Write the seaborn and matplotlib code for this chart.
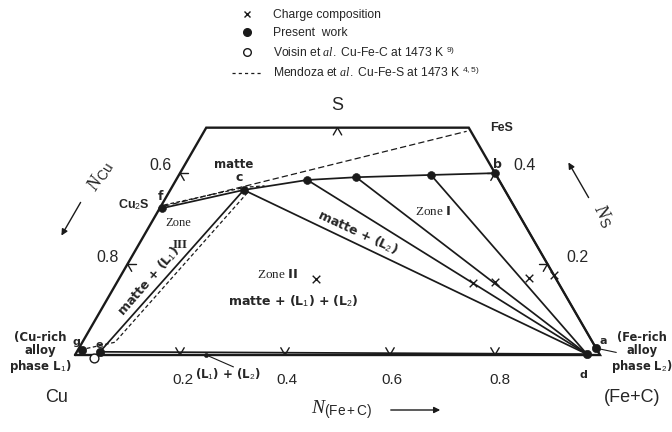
import numpy as np
import pandas as pd
import matplotlib
matplotlib.use('Agg')
import matplotlib.pyplot as plt
import seaborn as sns
from matplotlib.lines import Line2D

# compositions as (N_(Fe+C), N_S); N_Cu is the rest
outline_fe = [0.0, 0.0, 0.5, 1.0, 0.0]
outline_s = [0.0, 0.5, 0.5, 0.0, 0.0]

# present work: f (Cu2S), c, three tie points, b
present_fe = [0.005, 0.14, 0.25, 0.34, 0.48, 0.60]
present_s = [0.323, 0.363, 0.385, 0.391, 0.396, 0.40]

# alloy end points: g, e (Cu-rich L1), d, a (Fe-rich L2)
alloy_fe = [0.008, 0.044, 0.974, 0.985]
alloy_s = [0.011, 0.007, 0.002, 0.015]

# (L1)+(L2) point on the base
l1l2_fe = [0.25]
l1l2_s = [0.0]

voisin_fe = [0.04]
voisin_s = [-0.006]

charge_fe = [0.376, 0.68, 0.72, 0.78, 0.825]
charge_s = [0.167, 0.158, 0.160, 0.170, 0.175]

# Mendoza et al. (dashed)
mend_join_fe = [0.005, 0.50]
mend_join_s = [0.327, 0.492]
mend_matte_fe = [0.005, 0.14, 0.175]
mend_matte_s = [0.330, 0.369, 0.372]
mend_l1_fe = [0.15, 0.062, 0.01]
mend_l1_s = [0.357, 0.028, 0.013]

bottom_ticks = [0.2, 0.4, 0.6, 0.8]   # N_(Fe+C)
left_ticks = [0.6, 0.8]               # N_Cu
right_ticks = [0.2, 0.4]              # N_S
top_ticks = [0.25]                    # N_(Fe+C) on the N_S = 0.5 line


def tern(fe, s):
    fe = np.asarray(fe, float)
    s = np.asarray(s, float)
    return fe + s / 2, s * np.sqrt(3) / 2


sns.set_theme(style='white')
plt.rcParams['font.family'] = ['Liberation Sans', 'DejaVu Sans']
plt.rcParams['mathtext.fontset'] = 'custom'
plt.rcParams['mathtext.it'] = 'Liberation Serif:italic'
plt.rcParams['mathtext.rm'] = 'Liberation Sans'

W, H = 672, 432
fig = plt.figure(figsize=(W / 100, H / 100), dpi=100)
ax = fig.add_axes([0, 0, 1, 1])
ax.set_xlim(-75 / 525, 597 / 525)
ax.set_ylim(-77 / 525, 355 / 525)
ax.axis('off')

# outline
x, y = tern(outline_fe, outline_s)
ax.plot(x, y, color='k', lw=1.7, solid_joinstyle='miter')

# phase boundaries and tie lines
i_c = 1
rows = []
seg = 0
def add(fe_list, s_list):
    global seg
    xs, ys = tern(fe_list, s_list)
    for a, b in zip(xs, ys):
        rows.append({'x': a, 'y': b, 'line': seg})
    seg += 1

add(present_fe, present_s)                                   # matte boundary f-c-b
add([present_fe[i_c], alloy_fe[1]], [present_s[i_c], alloy_s[1]])   # c-e
add([alloy_fe[1], alloy_fe[2]], [alloy_s[1], alloy_s[2]])           # e-d
for k in range(1, 5):
    add([present_fe[k], alloy_fe[2]], [present_s[k], alloy_s[2]])  # tie lines to d
add([present_fe[5], alloy_fe[3]], [present_s[5], alloy_s[3]])       # b-a
lines = pd.DataFrame(rows)
sns.lineplot(data=lines, x='x', y='y', units='line', estimator=None, sort=False,
             color='k', lw=1.25, ax=ax, legend=False)

# Mendoza dashed lines
for fe_l, s_l, dash in [(mend_join_fe, mend_join_s, (0, (5, 2.5))),
                        (mend_matte_fe, mend_matte_s, (0, (3, 2))),
                        (mend_l1_fe, mend_l1_s, (0, (3, 2)))]:
    xm, ym = tern(fe_l, s_l)
    ax.plot(xm, ym, color='k', lw=0.9, ls=dash)

# tick marks on the edges
L = 0.016
def vtick(fe, s, angles):
    x0, y0 = tern(fe, s)
    for a in angles:
        r = np.deg2rad(a)
        ax.plot([x0, x0 + L * np.cos(r)], [y0, y0 + L * np.sin(r)], color='k', lw=1)

for t in bottom_ticks:
    vtick(t, 0.0, [60, 120])
for t in left_ticks:
    vtick(0.0, 1 - t, [0, -60])
for t in right_ticks:
    vtick(1 - t, t, [180, 240])
for t in top_ticks:
    vtick(t, 0.5, [-60, -120])

# markers
px, py = tern(present_fe, present_s)
sns.scatterplot(x=px, y=py, color='k', s=32, edgecolor='k', ax=ax, zorder=5)
axx, axy = tern(alloy_fe, alloy_s)
sns.scatterplot(x=axx, y=axy, color='k', s=36, edgecolor='k', ax=ax, zorder=5)
lx, ly = tern(l1l2_fe, l1l2_s)
sns.scatterplot(x=lx, y=ly, color='k', s=10, edgecolor='k', ax=ax, zorder=5)
vx, vy = tern(voisin_fe, voisin_s)
sns.scatterplot(x=vx, y=vy, facecolor='white', edgecolor='k', s=40, linewidth=1, ax=ax, zorder=6)
cx, cy = tern(charge_fe, charge_s)
sns.scatterplot(x=cx, y=cy, marker='x', color='k', s=30, linewidth=1, ax=ax, zorder=5)


def put(xp, yp, s, **kw):
    kw.setdefault('ha', 'center')
    kw.setdefault('va', 'center')
    fig.text(xp / W, 1 - yp / H, s, **kw)


def arrow(x0, y0, x1, y1):
    ax.annotate('', xy=(x1, H - y1), xycoords='figure pixels',
                xytext=(x0, H - y0), textcoords='figure pixels',
                arrowprops=dict(arrowstyle='-|>', color='k', lw=1, mutation_scale=9))


comic = dict(fontfamily='DejaVu Sans', fontweight='bold')
serif = dict(fontfamily='Liberation Serif')

# vertex and axis labels
put(337, 106, 'S', fontsize=13)
put(502, 128, 'FeS', fontsize=9, fontweight='bold')
put(134, 205, r'Cu$_2$S', fontsize=9, fontweight='bold')
put(57, 397, 'Cu', fontsize=13)
put(632, 397, '(Fe+C)', fontsize=13)
for t, xp in zip(bottom_ticks, [183, 287, 392, 500]):
    put(xp, 380, f'{t:.1f}', fontsize=11)
put(160, 165, '0.6', fontsize=11.5)
put(108, 258, '0.8', fontsize=11.5)
put(525, 166, '0.4', fontsize=11.5)
put(577, 258, '0.2', fontsize=11.5)

put(342, 410, r'$N_{\rm (Fe+C)}$', fontsize=14)
arrow(388, 410, 443, 410)
put(100, 176, r'$N_{\rm Cu}$', fontsize=14, rotation=58)
arrow(82, 200, 60, 238)
put(603, 216, r'$N_{\rm S}$', fontsize=14, rotation=-62)
arrow(590, 200, 567, 160)

# point names
put(161, 196, 'f', fontsize=9, **comic)
put(239, 178, 'c', fontsize=9, **comic)
put(497, 164, 'b', fontsize=9, **comic)
put(76, 342, 'g', fontsize=8, **comic)
put(99, 345, 'e', fontsize=8, **comic)
put(583, 375, 'd', fontsize=8, **comic)
put(603, 341, 'a', fontsize=8, **comic)

# region labels
put(234, 164, 'matte', fontsize=8.5, **comic)
put(178, 223, 'Zone', fontsize=9, **serif)
put(180, 245, 'III', fontsize=9.5, fontweight='bold', **serif)
put(433, 212, r'Zone $\mathbf{I}$', fontsize=9.5, **serif)
put(278, 274, r'Zone $\mathbf{II}$', fontsize=9.5, **serif)
put(293, 301, r'matte + (L$_1$) + (L$_2$)', fontsize=9, **comic)
put(358, 232, r'matte + (L$_2$)', fontsize=9, rotation=-25, **comic)
put(148, 281, r'matte + (L$_1$)', fontsize=9, rotation=49, **comic)
put(228, 374, r'(L$_1$) + (L$_2$)', fontsize=8.5, **comic)
ax.annotate('', xy=(lx[0], ly[0]), xytext=(236, H - 368), textcoords='figure pixels',
            arrowprops=dict(arrowstyle='-', color='k', lw=0.8))
put(40, 353, '(Cu-rich\nalloy\nphase L$_1$)', fontsize=8.5, linespacing=1.05, **comic)
put(642, 353, '(Fe-rich\nalloy\nphase L$_2$)', fontsize=8.3, linespacing=1.05, **comic)
ax.annotate('', xy=(axx[3], axy[3]), xytext=(619, H - 353), textcoords='figure pixels',
            arrowprops=dict(arrowstyle='-', color='k', lw=0.8))

# legend
handles = [Line2D([], [], ls='none', marker='x', color='k', ms=5, mew=1),
           Line2D([], [], ls='none', marker='o', color='k', ms=5.5),
           Line2D([], [], ls='none', marker='o', mfc='white', mec='k', ms=5.5, mew=1),
           Line2D([], [], ls=(0, (2.5, 2.5)), color='k', lw=0.9)]
labels = ['Charge composition', 'Present  work',
          r'Voisin et $\it{al.}$ Cu-Fe-C at 1473 K $^{9)}$',
          r'Mendoza et $\it{al.}$ Cu-Fe-S at 1473 K $^{4,5)}$']
fig.legend(handles, labels, loc='upper left', bbox_to_anchor=(232 / W, 1 - 9 / H),
           frameon=False, fontsize=8.7, handlelength=2.4, handletextpad=1.0,
           labelspacing=0.5, borderpad=0, borderaxespad=0)

fig.savefig('out.png', dpi=100)
